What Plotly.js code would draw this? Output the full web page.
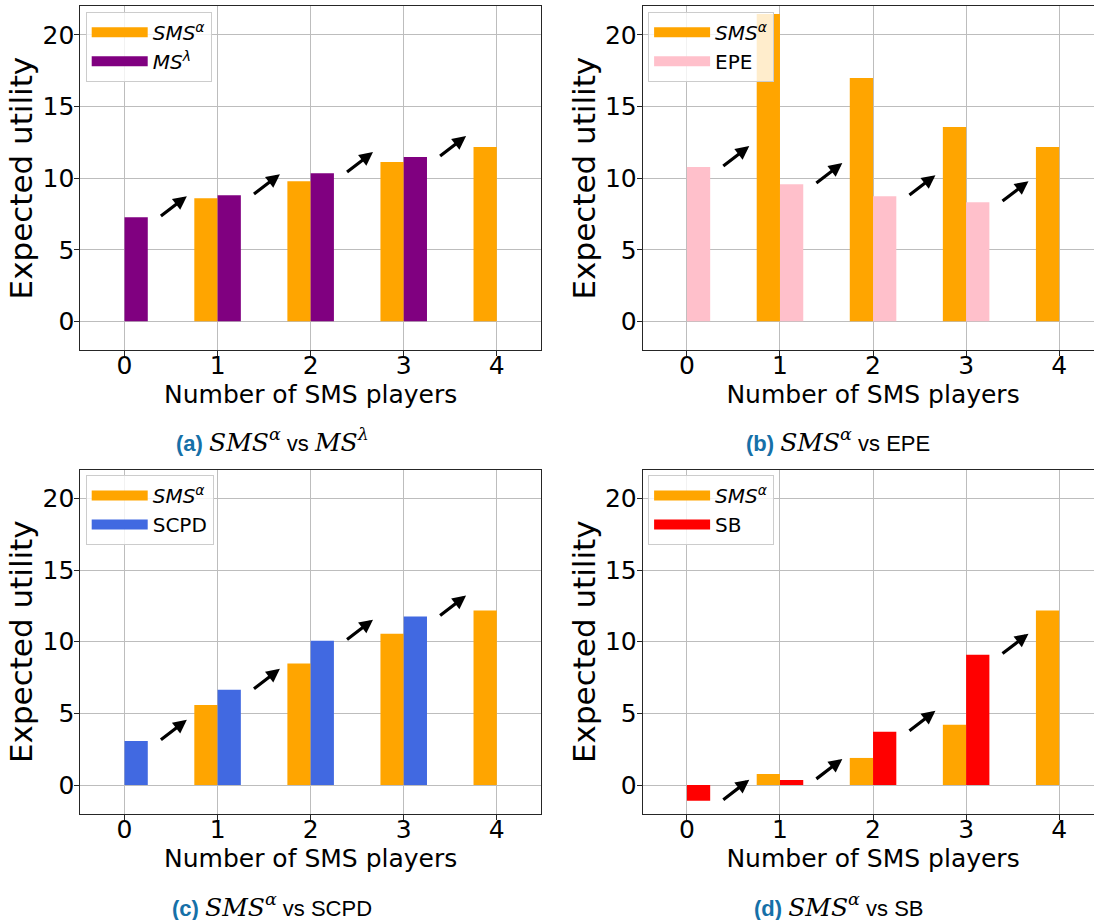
<!DOCTYPE html>
<html><head><meta charset="utf-8">
<script src="https://cdn.plot.ly/plotly-3.0.1.min.js"></script>
<style>html,body{margin:0;padding:0;overflow:hidden;background:#fff}#chart{width:1104px;height:920px}</style>
</head><body><div id="chart"></div>
<script>
// ---- data ----
const players = [0, 1, 2, 3, 4];
const yTicks = [0, 5, 10, 15, 20];
const smsA = [0, 8.60, 9.79, 11.12, 12.17];
const msLambda = [7.27, 8.81, 10.35, 11.47, 0];
const smsB = [0, 21.47, 16.99, 13.57, 12.17];
const epe = [10.77, 9.58, 8.74, 8.32, 0];
const smsC = [0, 5.59, 8.48, 10.56, 12.17];
const scpd = [3.08, 6.64, 10.07, 11.75, 0];
const smsD = [0, 0.77, 1.89, 4.20, 12.17];
const sb = [-1.10, 0.35, 3.71, 9.09, 0];
const smsName = '<i>SMS<sup>α</sup></i>';
const otherNames = ['<i>MS<sup>λ</sup></i>', 'EPE', 'SCPD', 'SB'];
const captionLetters = ['(a)', '(b)', '(c)', '(d)'];
const mathSpan = '<span style="font-family:DejaVu Serif;font-size:25px">';
const captionOthers = [mathSpan + '<i>MS<sup>λ</sup></i></span>', 'EPE', 'SCPD', 'SB'];
const xTitle = 'Number of SMS players';
const yTitle = 'Expected utility';

// ---- layout geometry ----
const W = 1104, H = 920;
const colX = [[80.3, 541], [642.7, 1103.4]];
const rowY = [[6.3, 350], [469.7, 813.7]];
const capX = [272, 838], capY = [440, 905];
const orange = '#FFA500';
const otherColors = ['#800080', '#FFC0CB', '#4169E1', '#FF0000'];
const smsSeries = [smsA, smsB, smsC, smsD];
const otherSeries = [msLambda, epe, scpd, sb];

const traces = [];
const layout = {
  width: W, height: H, margin: {l: 0, r: 0, t: 0, b: 0},
  paper_bgcolor: '#fff', plot_bgcolor: '#fff', showlegend: true,
  barmode: 'overlay', annotations: [],
  font: {family: 'DejaVu Sans', color: '#000'}
};

const axBase = {
  showline: true, mirror: true, linecolor: '#262626', linewidth: 1,
  ticks: 'outside', ticklen: 5, tickwidth: 1, tickcolor: '#262626',
  showgrid: true, gridcolor: '#bdbdbd', gridwidth: 1, zeroline: false,
  tickfont: {family: 'DejaVu Sans', size: 25, color: '#000'}, fixedrange: true
};

for (let p = 0; p < 4; p++) {
  const col = p % 2, row = Math.floor(p / 2);
  const sfx = p === 0 ? '' : String(p + 1);
  const xa = 'x' + sfx, ya = 'y' + sfx;
  const leg = 'legend' + sfx;
  const sms = smsSeries[p], oth = otherSeries[p];

  traces.push({type: 'bar', x: players, y: sms, width: 0.25, offset: -0.25,
    marker: {color: orange, line: {width: 0}}, xaxis: xa, yaxis: ya, showlegend: false, hoverinfo: 'skip'});
  traces.push({type: 'bar', x: players, y: oth, width: 0.25, offset: 0,
    marker: {color: otherColors[p], line: {width: 0}}, xaxis: xa, yaxis: ya, showlegend: false, hoverinfo: 'skip'});
  // legend entries
  traces.push({type: 'scatter', mode: 'lines', x: [null], y: [null], name: smsName,
    line: {color: orange, width: 15}, xaxis: xa, yaxis: ya, legend: leg});
  traces.push({type: 'scatter', mode: 'lines', x: [null], y: [null], name: otherNames[p],
    line: {color: otherColors[p], width: 15}, xaxis: xa, yaxis: ya, legend: leg});

  const x0 = colX[col][0] / W, x1 = colX[col][1] / W;
  const y0 = 1 - rowY[row][1] / H, y1 = 1 - rowY[row][0] / H;
  layout['xaxis' + sfx] = Object.assign({}, axBase, {
    domain: [x0, x1], range: [-0.475, 4.475], tickvals: players, anchor: ya,
    ticklabelstandoff: -12,
    title: {text: xTitle, font: {family: 'DejaVu Sans', size: 25, color: '#000'}, standoff: 4}
  });
  layout['yaxis' + sfx] = Object.assign({}, axBase, {
    domain: [y0, y1], range: [-2, 22], tickvals: yTicks, anchor: xa,
    ticklabelstandoff: -5,
    title: {text: yTitle, font: {family: 'DejaVu Sans', size: 31, color: '#000'}, standoff: 0}
  });
  layout[leg] = {
    x: (colX[col][0] + 5.4) / W, y: 1 - (rowY[row][0] + 5.4) / H, xanchor: 'left', yanchor: 'top',
    bgcolor: 'rgba(255,255,255,0.8)', bordercolor: '#cccccc', borderwidth: 1,
    font: {family: 'DejaVu Sans', size: 20, color: '#000'}, itemwidth: 56
  };
  // arrows from bar (second series) to next group
  for (let i = 0; i < 4; i++) {
    layout.annotations.push({
      xref: xa, yref: ya, axref: xa, ayref: ya,
      x: players[i] + 0.67, y: oth[i] + 1.47,
      ax: players[i] + 0.375, ay: oth[i],
      text: '', showarrow: true, arrowhead: 2, arrowsize: 0.85, arrowwidth: 3.2, arrowcolor: '#000'
    });
  }
  // caption
  layout.annotations.push({
    xref: 'paper', yref: 'paper', x: capX[col] / W, y: 1 - capY[row] / H,
    xanchor: 'center', yanchor: 'middle', showarrow: false,
    font: {family: 'Liberation Sans', size: 22, color: '#000'},
    text: '<span style="color:#1670a8"><b>' + captionLetters[p] + '</b></span> ' +
      mathSpan + '<i>SMS<sup>α</sup></i></span> vs ' + captionOthers[p]
  });
}

Plotly.newPlot('chart', traces, layout, {staticPlot: true});
</script>
</body></html>
